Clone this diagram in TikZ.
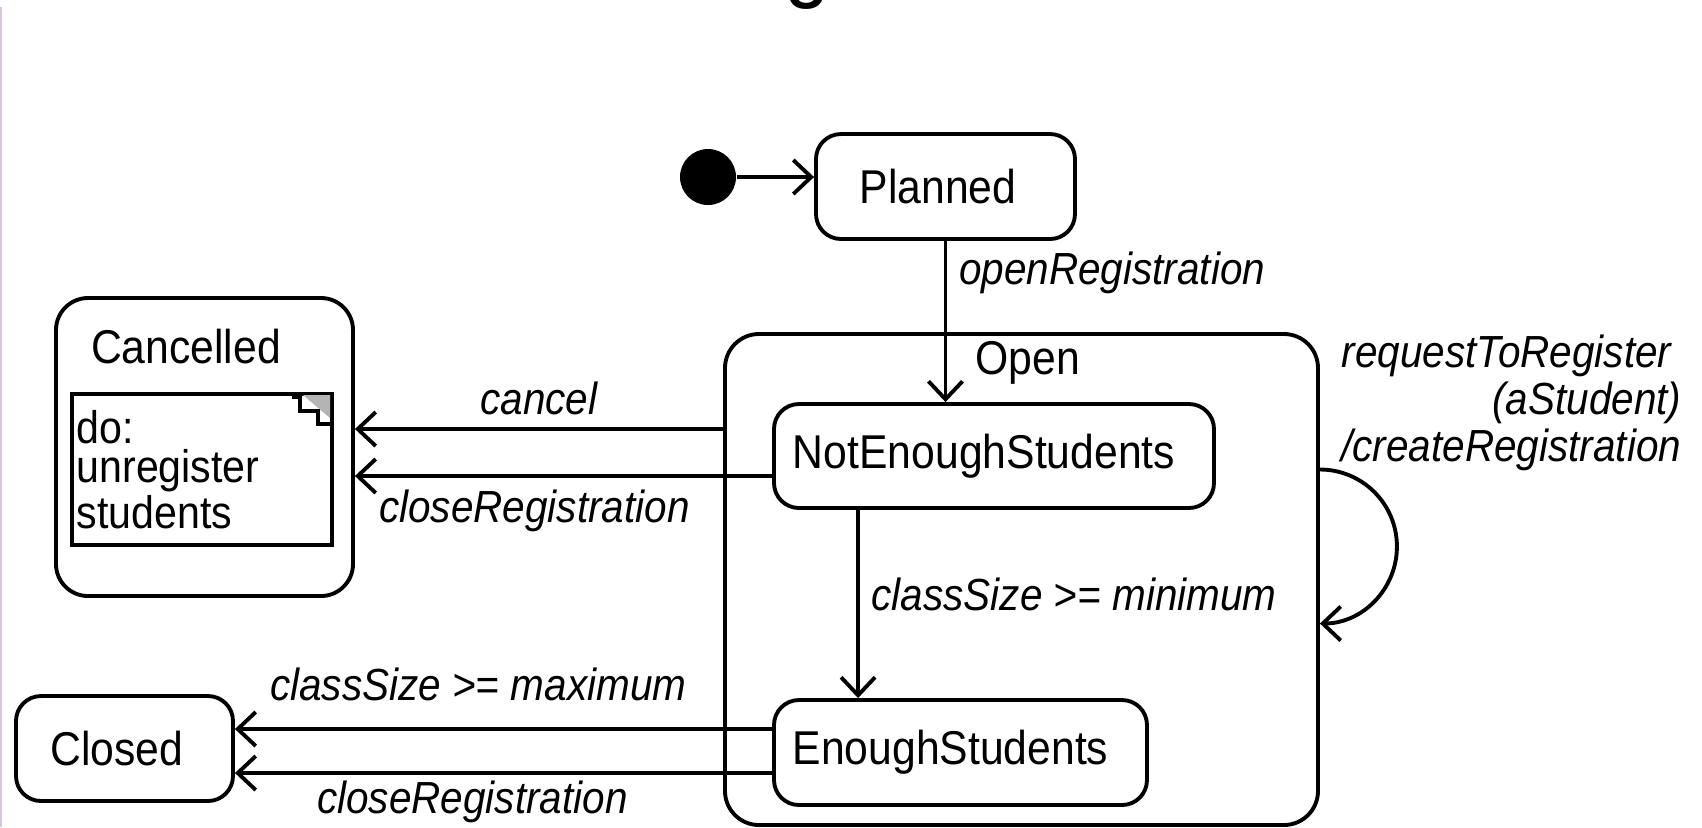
\documentclass[tikz,border=0pt]{standalone}
\usepackage{fontspec}
\setmainfont{Liberation Sans}[FakeStretch=0.9]
\usepackage{tikz}
\usetikzlibrary{arrows.meta,positioning}
\definecolor{umlline}{HTML}{000000}
\definecolor{edgepink}{HTML}{DCC4D8}
\definecolor{iconshade}{HTML}{B4B4B4}
\tikzset{
    statebox/.style={rectangle, rounded corners=0.25cm, draw=umlline, line width=1.1pt,
        minimum height=1.05cm, inner sep=0pt, font=\fontsize{13.5}{15}\selectfont},
    region/.style={rectangle, rounded corners=0.34cm, draw=umlline, line width=1.1pt,
        inner sep=0pt},
    activity/.style={rectangle, draw=umlline, line width=1.1pt, inner sep=0pt},
    statetitle/.style={inner sep=0pt, font=\fontsize{13.5}{15}\selectfont},
    guard/.style={font=\fontsize{12.8}{15}\selectfont\itshape},
    trans/.style={-{Straight Barb[length=1.8mm,width=3.4mm]}, line width=1.1pt, draw=umlline},
    initdot/.style={circle, fill=umlline, inner sep=0pt, minimum size=0.56cm}
}

\begin{document}
\begin{tikzpicture}[x=1cm,y=1cm]
        \useasboundingbox (0,0) rectangle (17.02,-8.27);
        \draw[edgepink, line width=0.5pt] (0.01,-0.07) -- (0.01,-8.27);
        \node[statetitle, anchor=base, font=\fontsize{26}{26}\selectfont] at (8.07,0.10) (heading) {g};
        \node[initdot] at (7.08,-1.77) (init) {};
        \node[statebox, minimum width=2.59cm] at (9.455,-1.865) (planned) {Planned\hspace*{0.15cm}};
        \node[region, minimum width=5.93cm, minimum height=4.91cm] at (10.215,-5.795) (open) {};
        \node[statetitle] at (10.28,-3.63) (opentitle) {Open};
        \node[statebox, minimum width=4.40cm, minimum height=1.04cm] at (9.94,-4.56) (nes) {NotEnoughStudents\hspace*{0.2cm}};
        \node[statebox, minimum width=3.73cm] at (9.605,-7.525) (es) {EnoughStudents\hspace*{0.2cm}};
        \node[region, rounded corners=0.32cm, minimum width=2.97cm, minimum height=2.98cm] at (2.045,-4.47) (cancelled) {};
        \node[statetitle] at (1.86,-3.47) (cancelledtitle) {Cancelled};
        \node[activity, minimum width=2.6cm, minimum height=1.51cm] at (2.02,-4.695) (act) {};
        \node[statetitle, anchor=north west, align=left, font=\fontsize{13}{11}\selectfont] at (0.76,-4.10) (acttext) {do:\\unregister\\students};
        \fill[iconshade] (3.03,-3.95) -- (3.30,-3.95) -- (3.30,-4.18) -- cycle;
        \draw[umlline, line width=0.9pt] (2.92,-3.97) -- (3.00,-3.97) -- (3.00,-4.11) -- (3.18,-4.11) -- (3.18,-4.24) -- (3.30,-4.24);
        \node[statebox, minimum width=2.17cm] at (1.245,-7.485) (closed) {Closed\hspace*{0.15cm}};
        \node[guard, anchor=north east, align=right, inner sep=0pt, font=\fontsize{12.8}{13.4}\selectfont\itshape] at (16.82,-3.34) (reqlabel) {requestToRegister\hspace*{0.1cm}\\(aStudent)\\/createRegistration};
        \coordinate (nesdown) at ([xshift=0.86cm]nes.south west);
        \coordinate (cancelrow) at ([yshift=0.18cm]cancelled.east);
        \coordinate (nesleft) at ([yshift=-0.2cm]nes.west);
        \coordinate (esupper) at ([yshift=0.235cm]es.west);
        \coordinate (eslower) at ([yshift=-0.205cm]es.west);
        \draw[trans] (init) -- (init -| planned.west);
        \draw[trans] (planned.south) -- (planned.south |- nes.north) node[guard, right, pos=0.2] {openRegistration};
        \draw[trans] (nesdown) -- (nesdown |- es.north) node[guard, right, pos=0.45] {classSize >= minimum};
        \draw[trans] (cancelrow -| open.west) -- (cancelrow) node[guard, above, midway] {cancel};
        \draw[trans] (nesleft) -- (nesleft -| cancelled.east) node[guard, below, pos=0.57] {closeRegistration};
        \draw[trans] (esupper) -- (esupper -| closed.east) node[guard, above=4pt, pos=0.547] {classSize >= maximum};
        \draw[trans] (eslower) -- (eslower -| closed.east) node[guard, below=-1.5pt, pos=0.558] {closeRegistration};
        \draw[trans] ([yshift=1.1cm]open.east) arc[start angle=90, end angle=-90, radius=0.77cm];
    \end{tikzpicture}
\end{document}
